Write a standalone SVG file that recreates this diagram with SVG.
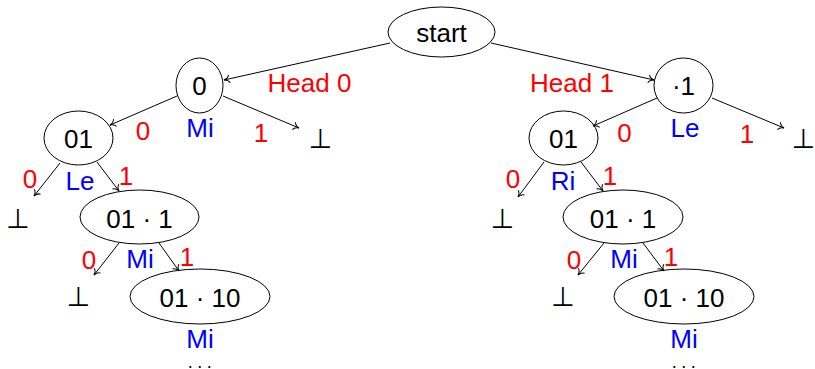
<svg xmlns="http://www.w3.org/2000/svg" width="815" height="369" viewBox="0 0 815 369">
<style>
.n{fill:none;stroke:#000;stroke-width:1}
.t{font-family:"Liberation Sans",Arial,sans-serif;font-size:26px;text-anchor:middle;fill:#000}
.d{font-family:"Liberation Sans",Arial,sans-serif;font-size:18px;text-anchor:middle;fill:#000;letter-spacing:4.5px}
.r{font-family:"Liberation Sans",Arial,sans-serif;font-size:26px;text-anchor:middle;fill:#ff0000}
.b{font-family:"Liberation Sans",Arial,sans-serif;font-size:26px;text-anchor:middle;fill:#0000ff}
.bot{font-family:"DejaVu Sans",sans-serif;font-size:27px;text-anchor:middle;fill:#000}
.e{stroke:#000;stroke-width:1;fill:none;marker-end:url(#arr)}
</style>
<defs>
<marker id="arr" markerUnits="userSpaceOnUse" viewBox="-7 -5 9 10" markerWidth="9" markerHeight="10" refX="0" refY="0" orient="auto">
<path d="M -5.5,-4 C -4.5,-1.2 -1.5,-0.3 0,0 C -1.5,0.3 -4.5,1.2 -5.5,4" fill="none" stroke="#000" stroke-width="1"/>
</marker>
</defs>
<g id="connectors">
<line class="e" x1="390" y1="43" x2="224" y2="80"/>
<line class="e" x1="491" y1="43" x2="654" y2="80"/>
<line class="e" x1="177" y1="96" x2="110" y2="125"/>
<line class="e" x1="223" y1="96" x2="299" y2="128"/>
<line class="e" x1="657" y1="98" x2="593" y2="126"/>
<line class="e" x1="712" y1="98" x2="784" y2="128"/>
<line class="e" x1="60" y1="163" x2="34" y2="196"/>
<line class="e" x1="97" y1="162" x2="119" y2="191"/>
<line class="e" x1="544" y1="162" x2="518" y2="197"/>
<line class="e" x1="581" y1="162" x2="603" y2="191"/>
<line class="e" x1="119" y1="243" x2="94" y2="275"/>
<line class="e" x1="159" y1="243" x2="179" y2="271"/>
<line class="e" x1="604" y1="243" x2="578" y2="275"/>
<line class="e" x1="643" y1="243" x2="664" y2="271"/>
</g>
<g id="edge-labels">
<text class="r" x="309.5" y="92">Head 0</text>
<text class="r" x="572" y="92">Head 1</text>
<text class="r" x="143" y="140">0</text>
<text class="r" x="261" y="142">1</text>
<text class="r" x="624.5" y="142">0</text>
<text class="r" x="747" y="143">1</text>
<text class="r" x="30" y="188">0</text>
<text class="r" x="126" y="185">1</text>
<text class="r" x="513" y="188">0</text>
<text class="r" x="610" y="185">1</text>
<text class="r" x="89" y="269">0</text>
<text class="r" x="187" y="266">1</text>
<text class="r" x="574" y="269">0</text>
<text class="r" x="671" y="266">1</text>
</g>
<g id="start"><ellipse class="n" cx="441.5" cy="32" rx="53.5" ry="25"/><text class="t" x="441.5" y="42">start</text></g>
<g id="n0"><ellipse class="n" cx="199.5" cy="85.5" rx="23.5" ry="27.5"/><text class="t" x="199.5" y="95">0</text><text class="b" x="200" y="137">Mi</text></g>
<g id="n1"><ellipse class="n" cx="683.5" cy="85.5" rx="29.5" ry="27.5"/><text class="t" x="683.5" y="95">·1</text><text class="b" x="685" y="137">Le</text></g>
<g id="n01L"><ellipse class="n" cx="78.5" cy="138" rx="34.5" ry="27"/><text class="t" x="78.5" y="148">01</text><text class="b" x="80" y="190">Le</text></g>
<g id="n01R"><ellipse class="n" cx="563.5" cy="138" rx="34.5" ry="27"/><text class="t" x="563.5" y="148">01</text><text class="b" x="563" y="190">Ri</text></g>
<g id="n011L"><ellipse class="n" cx="139.5" cy="217" rx="59.5" ry="27"/><text class="t" x="139.5" y="227.5">01 · 1</text><text class="b" x="140" y="268">Mi</text></g>
<g id="n011R"><ellipse class="n" cx="623" cy="217" rx="60" ry="27"/><text class="t" x="623" y="227.5">01 · 1</text><text class="b" x="624" y="268">Mi</text></g>
<g id="n0110L"><ellipse class="n" cx="200" cy="296.5" rx="70" ry="27.5"/><text class="t" x="200" y="306.5">01 · 10</text><text class="b" x="200" y="348">Mi</text><text class="d" x="202" y="367.5">...</text></g>
<g id="n0110R"><ellipse class="n" cx="684" cy="296.5" rx="70" ry="27.5"/><text class="t" x="684" y="306.5">01 · 10</text><text class="b" x="684" y="348">Mi</text><text class="d" x="686" y="367.5">...</text></g>
<g id="bot1"><text class="bot" x="320.5" y="148">⊥</text></g>
<g id="bot2"><text class="bot" x="803.5" y="148">⊥</text></g>
<g id="bot3"><text class="bot" x="18" y="227.5">⊥</text></g>
<g id="bot4"><text class="bot" x="502.5" y="227.5">⊥</text></g>
<g id="bot5"><text class="bot" x="78.5" y="306">⊥</text></g>
<g id="bot6"><text class="bot" x="563" y="306">⊥</text></g>
</svg>
